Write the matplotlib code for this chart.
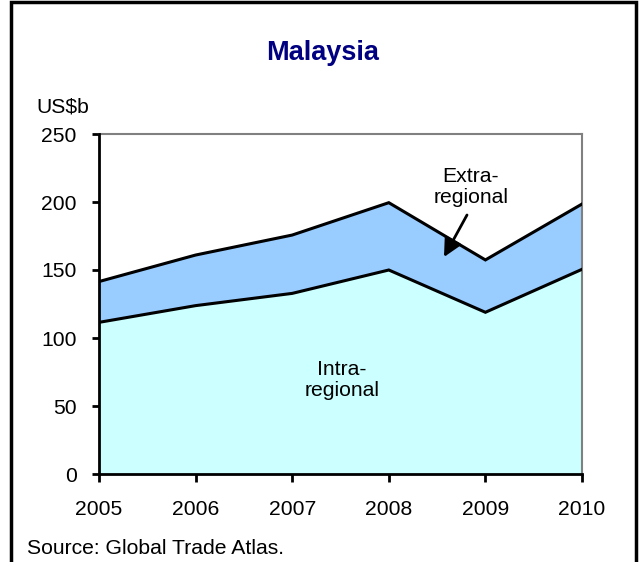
import matplotlib
matplotlib.use("Agg")
import matplotlib.pyplot as plt
from matplotlib.patches import Rectangle

years = [2005, 2006, 2007, 2008, 2009, 2010]
intra = [111.5, 123.8, 132.8, 150.0, 118.9, 150.5]
total = [141.5, 161.0, 175.7, 199.5, 157.4, 198.5]
yticks = [0, 50, 100, 150, 200, 250]

plt.rcParams['font.family'] = ['Liberation Sans', 'DejaVu Sans']
FS = 15.2

W, H = 640, 562
fig = plt.figure(figsize=(W / 100, H / 100), dpi=100)
ax = fig.add_axes([99 / W, 1 - 474 / H, (582 - 99) / W, (474 - 134) / H])

ax.fill_between(years, 0, intra, color='#CCFFFF', linewidth=0, zorder=1)
ax.fill_between(years, intra, total, color='#99CCFF', linewidth=0, zorder=1)
ax.plot(years, intra, color='black', lw=2.2, zorder=3, solid_joinstyle='miter')
ax.plot(years, total, color='black', lw=2.2, zorder=3, solid_joinstyle='miter')

ax.set_xlim(years[0], years[-1])
ax.set_ylim(0, 250)
ax.set_xticks(years)
ax.set_xticklabels([str(y) for y in years])
ax.set_yticks(yticks)
ax.tick_params(axis='both', labelsize=FS, width=2, color='black')
ax.tick_params(axis='y', direction='out', length=5, pad=11)
ax.tick_params(axis='x', direction='out', length=6, pad=13)

for s in ['left', 'bottom']:
    ax.spines[s].set_color('black')
    ax.spines[s].set_linewidth(2)
for s in ['top', 'right']:
    ax.spines[s].set_color('#808080')
    ax.spines[s].set_linewidth(1.5)
ax.spines['left'].set_zorder(5)
ax.spines['bottom'].set_zorder(5)

fig.text(323 / W, 1 - 53 / H, 'Malaysia', ha='center', va='center',
         fontsize=19.5, fontweight='bold', color='#000080')
fig.text(63 / W, 1 - 107 / H, 'US$b', ha='center', va='center', fontsize=FS)
fig.text(27 / W, 1 - 548 / H, 'Source: Global Trade Atlas.', ha='left',
         va='center', fontsize=FS)

fig.text(342 / W, 1 - 380 / H, 'Intra-\nregional', ha='center', va='center',
         fontsize=FS, linespacing=1.15)
fig.text(471 / W, 1 - 187 / H, 'Extra-\nregional', ha='center', va='center',
         fontsize=FS, linespacing=1.15)
ax.annotate('', xy=(444 / W, 1 - 257 / H), xycoords='figure fraction',
            xytext=(467 / W, 1 - 215 / H), textcoords='figure fraction',
            arrowprops=dict(arrowstyle='-|>,head_length=1.1,head_width=0.55',
                            color='black', lw=2, shrinkA=0, shrinkB=0),
            zorder=6)

fig.add_artist(Rectangle((11 / W, -0.05), (636 - 11) / W, 1.05 - 2 / H,
                         transform=fig.transFigure, fill=False,
                         edgecolor='black', linewidth=2.5, clip_on=False))

fig.savefig('out.png', dpi=100)
